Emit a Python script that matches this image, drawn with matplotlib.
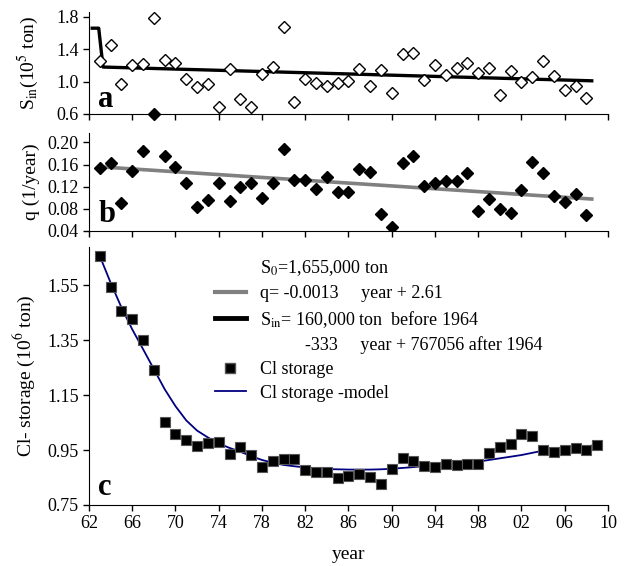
import numpy as np
import matplotlib
matplotlib.use("Agg")
import matplotlib.pyplot as plt
from matplotlib.lines import Line2D
from matplotlib.ticker import FormatStrFormatter, FixedLocator, FuncFormatter

plt.rcParams["font.family"] = ["Liberation Serif", "DejaVu Serif"]
plt.rcParams["mathtext.fontset"] = "stix"

# panel a: chloride input S_in (10^5 ton), 1963-2008
SIN_YEARS = list(range(1963, 2009))
SIN_VALUES = [1.26, 1.45, 0.97, 1.20, 1.22, 1.79, 1.27, 1.23, 1.03, 0.93,
              0.97, 0.69, 1.16, 0.78, 0.69, 1.09, 1.18, 1.68, 0.75, 1.03,
              0.98, 0.94, 0.98, 1.01, 1.15, 0.95, 1.14, 0.86, 1.34, 1.35,
              1.02, 1.21, 1.08, 1.17, 1.23, 1.11, 1.17, 0.84, 1.13, 1.00,
              1.06, 1.25, 1.07, 0.90, 0.94, 0.80]
SIN_ODD_YEAR = [1968]
SIN_ODD_VALUE = [0.6]
# S_in model line as drawn
SIN_LINE_YEARS = [1962.3, 1962.9, 1963.3, 2008.5]
SIN_LINE_VALUES = [1.66, 1.66, 1.18, 1.01]

# panel b: q (1/year), 1968 missing
Q_YEARS = [y for y in range(1963, 2009) if y != 1968]
Q_VALUES = [0.153, 0.162, 0.090, 0.149, 0.184, 0.176, 0.155, 0.127, 0.083,
            0.096, 0.127, 0.094, 0.119, 0.127, 0.099, 0.127, 0.188, 0.133,
            0.132, 0.116, 0.138, 0.111, 0.110, 0.152, 0.146, 0.070, 0.048,
            0.162, 0.176, 0.122, 0.127, 0.131, 0.131, 0.144, 0.076, 0.097,
            0.079, 0.072, 0.114, 0.164, 0.144, 0.103, 0.092, 0.107, 0.069]
Q_TREND = (-0.00128, 2.6686)
Q_TREND_YEARS = [1963, 2008.5]

# panel c: Cl storage (10^6 ton), 1963-2009
CL_YEARS = list(range(1963, 2010))
CL_VALUES = [1.657, 1.546, 1.456, 1.428, 1.352, 1.242, 1.054, 1.010, 0.985,
             0.964, 0.976, 0.980, 0.935, 0.962, 0.931, 0.890, 0.912, 0.917,
             0.917, 0.876, 0.869, 0.869, 0.849, 0.855, 0.864, 0.852, 0.827,
             0.882, 0.923, 0.912, 0.893, 0.890, 0.899, 0.896, 0.900, 0.899,
             0.938, 0.962, 0.971, 1.010, 1.000, 0.952, 0.943, 0.952, 0.957,
             0.952, 0.968]
CL_MODEL = [1.657, 1.560, 1.470, 1.390, 1.318, 1.245, 1.172, 1.110, 1.058,
            1.021, 0.996, 0.974, 0.958, 0.944, 0.928, 0.914, 0.904, 0.896,
            0.891, 0.887, 0.884, 0.881, 0.880, 0.879, 0.879, 0.879, 0.880,
            0.882, 0.885, 0.888, 0.892, 0.896, 0.899, 0.902, 0.905, 0.908,
            0.914, 0.920, 0.926, 0.932, 0.940, 0.948, 0.952, 0.956, 0.960,
            0.964, 0.968]

X_TICKS = list(range(1962, 2011, 4))
FS = 13


def style_axis(ax):
    for side in ("top", "right"):
        ax.spines[side].set_visible(False)
    ax.set_xlim(1962, 2010)
    ax.xaxis.set_major_locator(FixedLocator(X_TICKS))
    ax.tick_params(direction="out", length=4, width=1, labelsize=FS)


def panel_label(ax, s, y=0.04):
    ax.text(0.018, y, s, transform=ax.transAxes, fontsize=22,
            fontweight="bold", ha="left", va="bottom")


fig = plt.figure(figsize=(6.24, 5.66), dpi=100)
ax_a = fig.add_axes([0.1426, 0.7986, 0.8317, 0.1802])
ax_b = fig.add_axes([0.1426, 0.5919, 0.8317, 0.1731])
ax_c = fig.add_axes([0.1426, 0.1078, 0.8317, 0.4558])

# a
style_axis(ax_a)
ax_a.plot(SIN_LINE_YEARS, SIN_LINE_VALUES, color="black", lw=2.4, zorder=2)
ax_a.plot(SIN_YEARS, SIN_VALUES, ls="none", marker="D", ms=5.8,
          mfc="white", mec="black", mew=1.0, zorder=3)
ax_a.plot(SIN_ODD_YEAR, SIN_ODD_VALUE, ls="none", marker="D", ms=5.8,
          color="black", clip_on=False, zorder=4)
ax_a.set_ylim(0.6, 1.86)
ax_a.set_yticks([0.6, 1.0, 1.4, 1.8])
ax_a.yaxis.set_major_formatter(FormatStrFormatter("%.1f"))
ax_a.set_xticklabels([])
ax_a.set_ylabel("S$_{\\rm in}$(10$^5$ ton)", fontsize=FS + 1)
ax_a.yaxis.set_label_coords(-0.093, 0.5)
panel_label(ax_a, "a", 0.0)

# b
style_axis(ax_b)
slope, intercept = Q_TREND
trend_x = np.array(Q_TREND_YEARS)
ax_b.plot(trend_x, slope * trend_x + intercept, color="#808080", lw=2.6, zorder=2)
ax_b.plot(Q_YEARS, Q_VALUES, ls="none", marker="D", ms=6, color="black", zorder=3)
ax_b.set_ylim(0.04, 0.217)
ax_b.set_yticks([0.04, 0.08, 0.12, 0.16, 0.20])
ax_b.yaxis.set_major_formatter(FormatStrFormatter("%.2f"))
ax_b.set_xticklabels([])
ax_b.set_ylabel("q (1/year)", fontsize=FS + 1)
ax_b.yaxis.set_label_coords(-0.095, 0.5)
panel_label(ax_b, "b", 0.02)

# c
style_axis(ax_c)
ax_c.plot(CL_YEARS, CL_MODEL, color="#000080", lw=1.3, zorder=2)
ax_c.plot(CL_YEARS, CL_VALUES, ls="none", marker="s", ms=6.7,
          mfc="black", mec="#555555", mew=0.8, zorder=3)
ax_c.set_ylim(0.75, 1.69)
ax_c.set_yticks([0.75, 0.95, 1.15, 1.35, 1.55])
ax_c.yaxis.set_major_formatter(FormatStrFormatter("%.2f"))
ax_c.xaxis.set_major_formatter(FuncFormatter(lambda v, p: f"{int(v) % 100:02d}"))
ax_c.set_xlabel("year", fontsize=FS + 1, labelpad=10)
ax_c.set_ylabel("Cl- storage (10$^6$ ton)", fontsize=FS + 1)
ax_c.yaxis.set_label_coords(-0.10, 0.5)
panel_label(ax_c, "c", 0.01)

handles = [
    Line2D([], [], ls="none"),
    Line2D([], [], color="#808080", lw=3),
    Line2D([], [], color="black", lw=3.5),
    Line2D([], [], ls="none"),
    Line2D([], [], ls="none", marker="s", ms=7, mfc="black", mec="#555555"),
    Line2D([], [], color="#000080", lw=1.3),
]
labels = [
    "S$_0$=1,655,000 ton",
    "q= -0.0013     year + 2.61",
    "S$_{\\rm in}$= 160,000 ton  before 1964",
    "          -333     year + 767056 after 1964",
    "Cl storage",
    "Cl storage -model",
]
ax_c.legend(handles, labels, loc="upper left", bbox_to_anchor=(0.243, 0.955),
            frameon=False, fontsize=FS, borderpad=0, borderaxespad=0,
            handlelength=1.7, handletextpad=0.8, labelspacing=0.37)

fig.savefig("out.png", dpi=100)
